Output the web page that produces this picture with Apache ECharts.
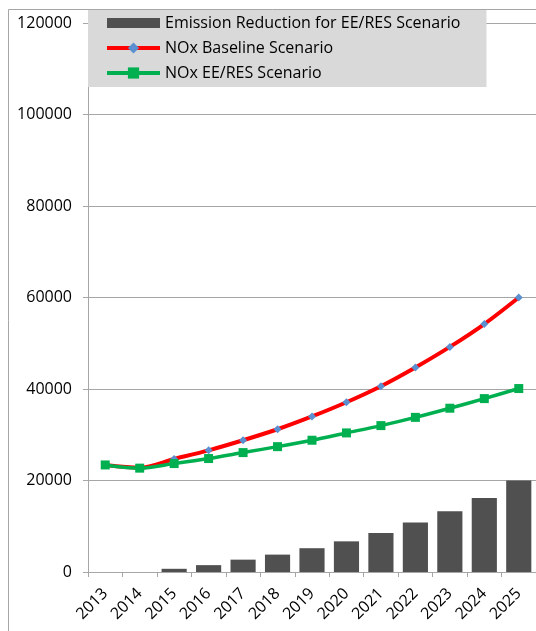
<!DOCTYPE html>
<html>
<head>
<meta charset="utf-8">
<script src="https://cdn.jsdelivr.net/npm/echarts@6/dist/echarts.min.js"></script>
<style>
html,body{margin:0;padding:0;background:#fff;}
#chart{width:536px;height:631px;}
</style>
</head>
<body>
<div id="chart"></div>
<script>
const years = ['2013','2014','2015','2016','2017','2018','2019','2020','2021','2022','2023','2024','2025'];
const reduction = [0, 0, 700, 1500, 2700, 3800, 5200, 6700, 8500, 10800, 13300, 16200, 20000];
const baseline = [23400, 22800, 24700, 26600, 28800, 31200, 34000, 37100, 40600, 44700, 49200, 54200, 60000];
const eeres = [23400, 22700, 23700, 24800, 26100, 27400, 28800, 30400, 32000, 33800, 35800, 37900, 40100];
const yTicks = [0, 20000, 40000, 60000, 80000, 100000, 120000];

const names = ['Emission Reduction for EE/RES Scenario', 'NOx Baseline Scenario', 'NOx EE/RES Scenario'];
const FONT = 'Open Sans';

const chart = echarts.init(document.getElementById('chart'), null, {renderer: 'canvas'});
chart.setOption({
  animation: false,
  backgroundColor: '#ffffff',
  graphic: [{
    type: 'rect', z: -10, silent: true,
    shape: {x: 8.5, y: 9.5, width: 700, height: 800},
    style: {fill: 'none', stroke: '#a6a6a6', lineWidth: 1}
  }],
  grid: {left: 88, right: 0, top: 23, bottom: 59, containLabel: false},
  legend: {
    orient: 'vertical',
    left: 88, top: 10,
    backgroundColor: '#d9d9d9',
    padding: [5, 26, 6, 17],
    itemWidth: 53, itemHeight: 14, itemGap: 9,
    textStyle: {fontFamily: FONT, fontSize: 16, color: '#000', lineHeight: 14},
    data: [
      {name: names[0], icon: 'path://M0,0H53V10H0Z', itemStyle: {borderWidth: 0, color: '#505050'}},
      {name: names[1], lineStyle: {width: 4, color: '#ff0000'}},
      {name: names[2], lineStyle: {width: 4, color: '#00b050'}}
    ]
  },
  xAxis: {
    type: 'category',
    data: years,
    boundaryGap: true,
    axisLine: {lineStyle: {color: '#a6a6a6', width: 1}},
    axisTick: {show: true, alignWithLabel: false, length: 5, lineStyle: {color: '#a6a6a6'}},
    axisLabel: {rotate: 45, margin: 19, fontFamily: FONT, fontSize: 16, color: '#000', interval: 0}
  },
  yAxis: {
    type: 'value',
    min: yTicks[0], max: yTicks[yTicks.length - 1], interval: yTicks[1] - yTicks[0],
    axisLine: {show: true, lineStyle: {color: '#a6a6a6', width: 1}},
    axisTick: {show: true, length: 5, lineStyle: {color: '#a6a6a6'}},
    splitLine: {show: true, lineStyle: {color: '#a6a6a6', width: 1}},
    axisLabel: {margin: 16, fontFamily: FONT, fontSize: 16, color: '#000', formatter: v => String(v)}
  },
  series: [
    {
      name: names[0], type: 'bar', data: reduction,
      barCategoryGap: '27%',
      itemStyle: {color: '#505050'}
    },
    {
      name: names[1], type: 'line', data: baseline,
      smooth: 0.3,
      lineStyle: {color: '#ff0000', width: 4},
      itemStyle: {color: '#5b8fd0'},
      symbol: 'diamond', symbolSize: 8, showAllSymbol: true
    },
    {
      name: names[2], type: 'line', data: eeres,
      smooth: 0.3,
      lineStyle: {color: '#00b050', width: 3.5},
      itemStyle: {color: '#00b050'},
      symbol: 'rect', symbolSize: 9, showAllSymbol: true
    }
  ]
});
</script>
</body>
</html>
